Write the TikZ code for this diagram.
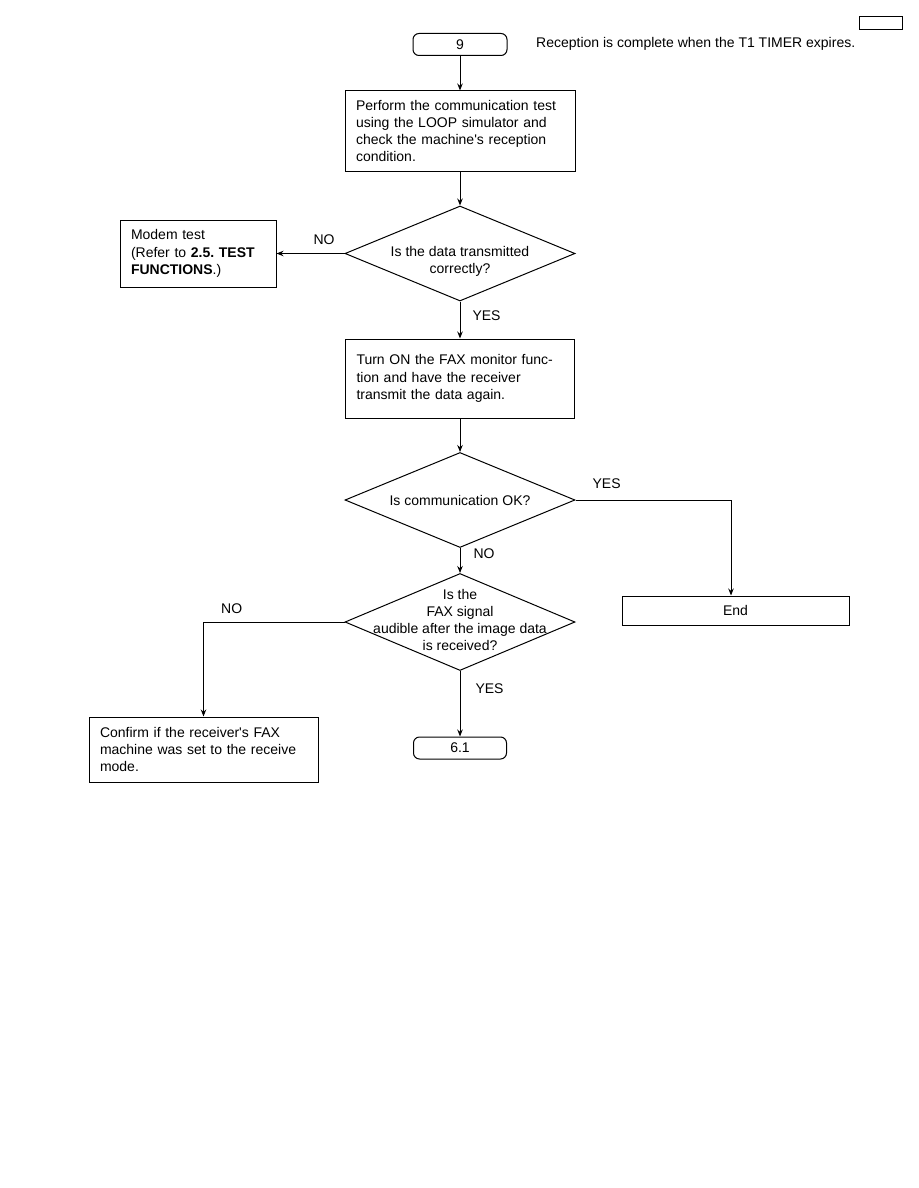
\documentclass[tikz,border=0pt]{standalone}
\usepackage{fontspec}
\setmainfont{Liberation Sans}
\usetikzlibrary{positioning,arrows.meta,shapes.geometric}
\frenchspacing

\begin{document}
\begin{tikzpicture}[x=1pt,y=-1pt,
  font=\fontsize{14}{17.3}\selectfont,
  proc/.style={draw,line width=1pt,align=left,inner xsep=11pt,inner ysep=0pt},
  term/.style={draw,line width=1pt,rounded corners=6pt,minimum height=22pt,inner sep=0pt},
  decision/.style={draw,line width=1pt,diamond,minimum width=230pt,inner sep=0pt},
  lbl/.style={inner sep=2pt},
  arr/.style={-{Stealth[length=7pt,width=5.5pt]},line width=1pt}]
  \useasboundingbox (0,0) rectangle (918,1188);
  \node[draw,line width=1pt,minimum width=43pt,minimum height=13pt,inner sep=0pt] (pagebox) at (880.5,23.5) {};
  \node[term,minimum width=94pt] (start) at (460,44.5) {9};
  \node[anchor=west,inner sep=0pt] (note) at (536,44) {Reception is complete when the T1 TIMER expires.};
  \node[proc,text width=208pt,minimum height=80pt] (check) at (460,131)
    {Perform the communication test\\ using the LOOP simulator and\\ check the machine\textquotesingle s reception\\ condition.};
  \node[decision,minimum height=95pt,
        label={[align=center,yshift=-8pt]center:Is the data transmitted\\ correctly?}] (dataok) at (460,253.5) {};
  \node[proc,text width=134pt,minimum height=67pt] (modem) at (198,253.5)
    {Modem test\\ (Refer to \textbf{2.5. TEST}\\ \textbf{FUNCTIONS}.)};
  \node[proc,text width=207pt,minimum height=79pt] (monitor) at (460,378.5)
    {Turn ON the FAX monitor func-\\ tion and have the receiver\\ transmit the data again.};
  \node[decision,minimum height=95pt,
        label={[align=center]center:Is communication OK?}] (commok) at (460,500) {};
  \node[proc,align=center,text width=205pt,minimum height=29pt] (endbox) at (735.5,610.5) {End};
  \node[decision,minimum height=97pt,
        label={[align=center,yshift=2pt]center:Is the\\ FAX signal\\ audible after the image data\\ is received?}] (audible) at (460,622) {};
  \node[proc,text width=207pt,minimum height=65pt] (confirm) at (203.5,749.5)
    {Confirm if the receiver\textquotesingle s FAX\\ machine was set to the receive\\ mode.};
  \node[term,minimum width=93pt] (ret) at (460,748) {6.1};

  \draw[arr] (start) -- (check);
  \draw[arr] (check) -- (dataok);
  \draw[arr] (dataok.west) -- node[lbl,above=6pt,pos=0.3]{NO} (modem);
  \draw[arr] (dataok) -- node[lbl,right=10pt,pos=0.37]{YES} (monitor);
  \draw[arr] (monitor) -- (commok);
  \draw[arr] (commok.east) -| node[lbl,above=9pt,pos=0.1]{YES} ([xshift=-4.5pt]endbox.north);
  \draw[arr] (commok) -- node[lbl,right=11pt,pos=0.23]{NO} (audible);
  \draw[arr] (audible.west) -| node[lbl,above=6pt,pos=0.4]{NO} (confirm.north);
  \draw[arr] (audible) -- node[lbl,right=13pt,pos=0.27]{YES} (ret);
\end{tikzpicture}
\end{document}
